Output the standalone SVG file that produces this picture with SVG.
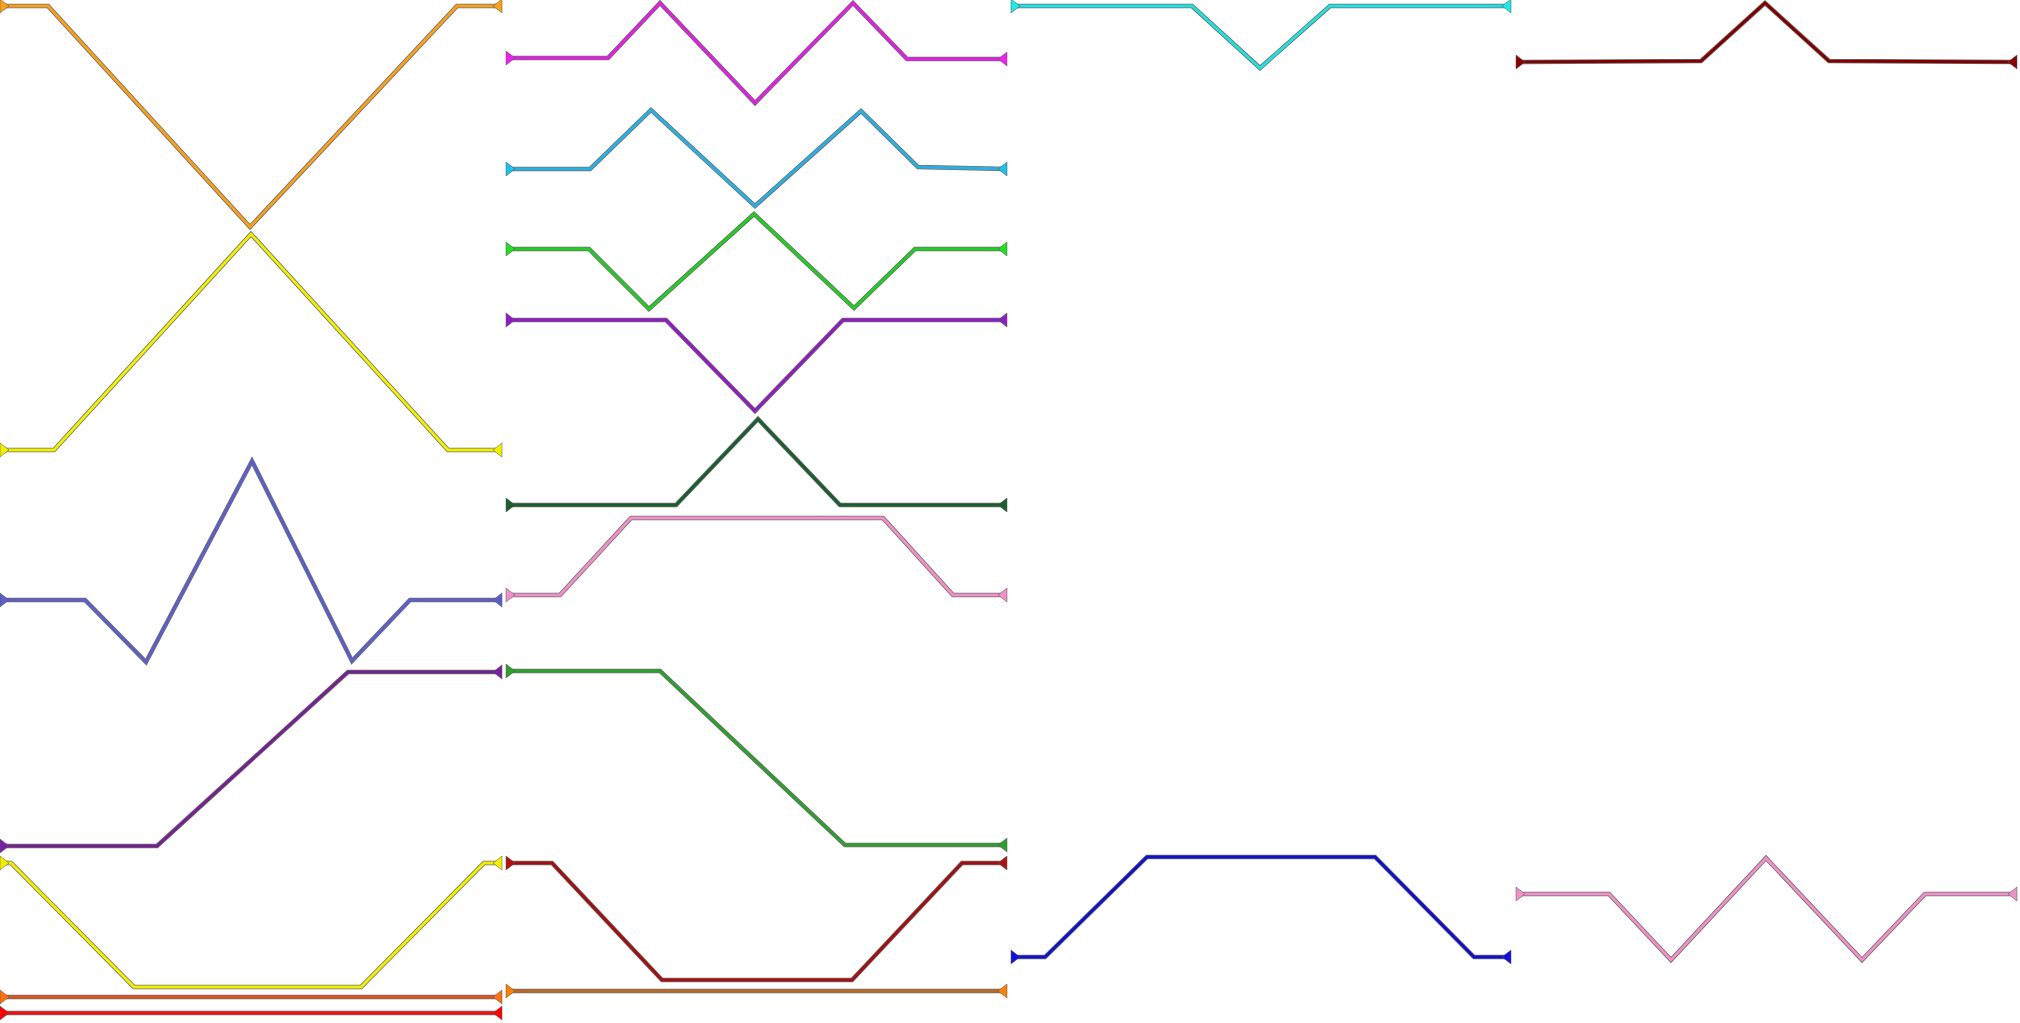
<svg xmlns="http://www.w3.org/2000/svg" xmlns:xlink="http://www.w3.org/1999/xlink" width="2020" height="1023" viewBox="0 0 2020 1023">
<style>
.u{fill:none;stroke:#707070;stroke-width:4.4;stroke-linejoin:miter}
.l{fill:none;stroke-width:2.8;stroke-linejoin:miter}
.m{stroke:#555;stroke-width:0.5}
</style>
<defs>
<path id="ts" d="M0,-7 L9,0 L0,7Z"/>
<path id="te" d="M0,-7 L-9,0 L0,7Z"/>
</defs>
<rect width="2020" height="1023" fill="#fff"/>
<g id="connectors">
<g id="e1"><polyline class="u" points="0,6 48,6 250,227 457,6 502,6"/><polyline class="l" stroke="#f8a01c" points="0,6 48,6 250,227 457,6 502,6"/><use xlink:href="#ts" class="m" fill="#f8a01c" x="0" y="6"/><use xlink:href="#te" class="m" fill="#f8a01c" x="502" y="6"/></g>
<g id="e2"><polyline class="u" points="0,450 54,450 251,234 448,450 502,450"/><polyline class="l" stroke="#f2f000" points="0,450 54,450 251,234 448,450 502,450"/><use xlink:href="#ts" class="m" fill="#f2f000" x="0" y="450"/><use xlink:href="#te" class="m" fill="#f2f000" x="502" y="450"/></g>
<g id="e3"><polyline class="u" points="0,600 85,600 146,662 252,461 352,661 410,600 502,600"/><polyline class="l" stroke="#5b5fc7" points="0,600 85,600 146,662 252,461 352,661 410,600 502,600"/><use xlink:href="#ts" class="m" fill="#5b5fc7" x="0" y="600"/><use xlink:href="#te" class="m" fill="#5b5fc7" x="502" y="600"/></g>
<g id="e4"><polyline class="u" points="0,846 157,846 348,672 502,672"/><polyline class="l" stroke="#74208f" points="0,846 157,846 348,672 502,672"/><use xlink:href="#ts" class="m" fill="#7a1fa2" x="0" y="846"/><use xlink:href="#te" class="m" fill="#7a1fa2" x="502" y="672"/></g>
<g id="e5"><polyline class="u" points="0,863 11,863 134,987 361,987 484,863 502,863"/><polyline class="l" stroke="#f2f000" points="0,863 11,863 134,987 361,987 484,863 502,863"/><use xlink:href="#ts" class="m" fill="#f2f000" x="0" y="863"/><use xlink:href="#te" class="m" fill="#f2f000" x="502" y="863"/></g>
<g id="e6"><polyline class="u" points="0,997 502,997"/><polyline class="l" stroke="#d9541e" points="0,997 502,997"/><use xlink:href="#ts" class="m" fill="#ff7010" x="0" y="997"/><use xlink:href="#te" class="m" fill="#ff7010" x="502" y="997"/></g>
<g id="e7"><polyline class="u" points="0,1013 502,1013"/><polyline class="l" stroke="#ee1111" points="0,1013 502,1013"/><use xlink:href="#ts" class="m" fill="#ff0000" x="0" y="1013"/><use xlink:href="#te" class="m" fill="#ff0000" x="502" y="1013"/></g>

<g id="e8"><polyline class="u" points="506,58 608,58 660,3 755,103 853,3 907,59 1007,59"/><polyline class="l" stroke="#e020e0" points="506,58 608,58 660,3 755,103 853,3 907,59 1007,59"/><use xlink:href="#ts" class="m" fill="#f020f0" x="506" y="58"/><use xlink:href="#te" class="m" fill="#f020f0" x="1007" y="59"/></g>
<g id="e9"><polyline class="u" points="506,169 590,169 651,110 755,206 861,111 918,167 1007,169"/><polyline class="l" stroke="#2ab0e0" points="506,169 590,169 651,110 755,206 861,111 918,167 1007,169"/><use xlink:href="#ts" class="m" fill="#20c0e8" x="506" y="169"/><use xlink:href="#te" class="m" fill="#20c0e8" x="1007" y="169"/></g>
<g id="e10"><polyline class="u" points="506,249 589,249 649,309 754,214 854,308 915,249 1007,249"/><polyline class="l" stroke="#22cc22" points="506,249 589,249 649,309 754,214 854,308 915,249 1007,249"/><use xlink:href="#ts" class="m" fill="#22dd22" x="506" y="249"/><use xlink:href="#te" class="m" fill="#22dd22" x="1007" y="249"/></g>
<g id="e11"><polyline class="u" points="506,320 666,320 755,411 843,320 1007,320"/><polyline class="l" stroke="#8e1cc0" points="506,320 666,320 755,411 843,320 1007,320"/><use xlink:href="#ts" class="m" fill="#8e1cc0" x="506" y="320"/><use xlink:href="#te" class="m" fill="#8e1cc0" x="1007" y="320"/></g>
<g id="e12"><polyline class="u" points="506,505 676,505 758,419 840,505 1007,505"/><polyline class="l" stroke="#1a5e30" points="506,505 676,505 758,419 840,505 1007,505"/><use xlink:href="#ts" class="m" fill="#1a5e30" x="506" y="505"/><use xlink:href="#te" class="m" fill="#1a5e30" x="1007" y="505"/></g>
<g id="e13"><polyline class="u" points="506,595 560,595 631,518 883,518 953,595 1007,595"/><polyline class="l" stroke="#f090c8" points="506,595 560,595 631,518 883,518 953,595 1007,595"/><use xlink:href="#ts" class="m" fill="#f090c8" x="506" y="595"/><use xlink:href="#te" class="m" fill="#f090c8" x="1007" y="595"/></g>
<g id="e14"><polyline class="u" points="506,671 660,671 845,845 1007,845"/><polyline class="l" stroke="#2e9e2e" points="506,671 660,671 845,845 1007,845"/><use xlink:href="#ts" class="m" fill="#2e9e2e" x="506" y="671"/><use xlink:href="#te" class="m" fill="#2e9e2e" x="1007" y="845"/></g>
<g id="e15"><polyline class="u" points="506,863 552,863 662,980 852,980 962,863 1007,863"/><polyline class="l" stroke="#a01010" points="506,863 552,863 662,980 852,980 962,863 1007,863"/><use xlink:href="#ts" class="m" fill="#b01010" x="506" y="863"/><use xlink:href="#te" class="m" fill="#b01010" x="1007" y="863"/></g>
<g id="e16"><polyline class="u" points="506,991 1007,991"/><polyline class="l" stroke="#b86a2a" points="506,991 1007,991"/><use xlink:href="#ts" class="m" fill="#ff8000" x="506" y="991"/><use xlink:href="#te" class="m" fill="#ff8000" x="1007" y="991"/></g>

<g id="e17"><polyline class="u" points="1011,6 1192,6 1260,68 1330,6 1511,6"/><polyline class="l" stroke="#20e0e0" points="1011,6 1192,6 1260,68 1330,6 1511,6"/><use xlink:href="#ts" class="m" fill="#20e8e8" x="1011" y="6"/><use xlink:href="#te" class="m" fill="#20e8e8" x="1511" y="6"/></g>
<g id="e18"><polyline class="u" points="1011,957 1045,957 1147,857 1375,857 1474,957 1511,957"/><polyline class="l" stroke="#1010c8" points="1011,957 1045,957 1147,857 1375,857 1474,957 1511,957"/><use xlink:href="#ts" class="m" fill="#1010e0" x="1011" y="957"/><use xlink:href="#te" class="m" fill="#1010e0" x="1511" y="957"/></g>

<g id="e19"><polyline class="u" points="1516,62 1701,61 1765,3 1829,61 2017,62"/><polyline class="l" stroke="#800000" points="1516,62 1701,61 1765,3 1829,61 2017,62"/><use xlink:href="#ts" class="m" fill="#8b0000" x="1516" y="62"/><use xlink:href="#te" class="m" fill="#8b0000" x="2017" y="62"/></g>
<g id="e20"><polyline class="u" points="1516,894 1609,894 1671,960 1766,858 1862,960 1925,894 2017,894"/><polyline class="l" stroke="#f090c8" points="1516,894 1609,894 1671,960 1766,858 1862,960 1925,894 2017,894"/><use xlink:href="#ts" class="m" fill="#f090c8" x="1516" y="894"/><use xlink:href="#te" class="m" fill="#f090c8" x="2017" y="894"/></g>
</g>
</svg>
